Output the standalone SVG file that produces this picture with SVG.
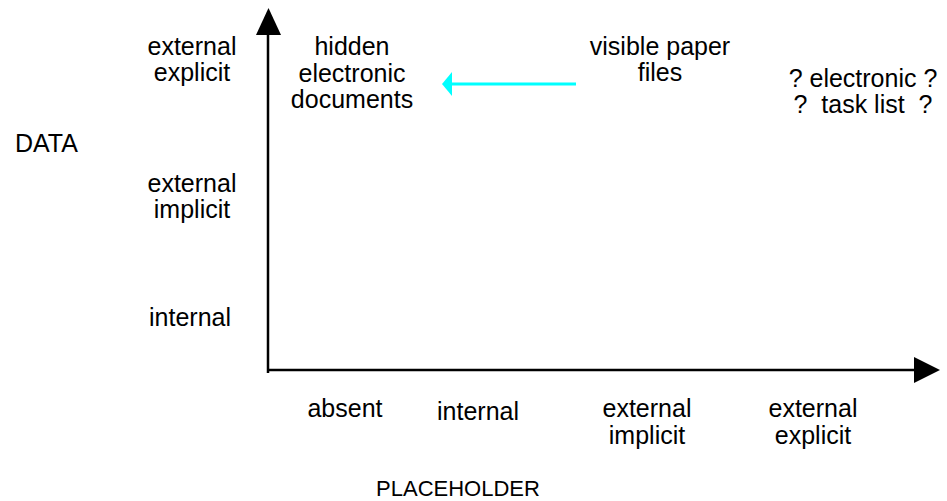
<svg xmlns="http://www.w3.org/2000/svg" width="947" height="501" viewBox="0 0 947 501">
<style>
text{font-family:"Liberation Sans",Arial,sans-serif;font-size:25px;fill:#000;}
.c{text-anchor:middle;}
.axis{stroke:#000;stroke-width:2.5;fill:none;}
</style>
<rect width="947" height="501" fill="#fff"/>
<g id="connectors">
<path class="axis" d="M268,373 V34"/>
<path d="M256,35 L268.5,8 L281,35 Z" fill="#000"/>
<path class="axis" d="M267,370 H914"/>
<path d="M914,357 L940,370 L914,383 Z" fill="#000"/>
<path d="M576,84 H450" stroke="#00FFFF" stroke-width="3" fill="none"/>
<path d="M452,72 L442,84 L452,96 Z" fill="#00FFFF"/>
</g>
<g id="y-ext-explicit">
<text class="c" x="192" y="55">external</text>
<text class="c" x="192" y="81">explicit</text>
</g>
<g id="y-title">
<text x="15" y="152">DATA</text>
</g>
<g id="y-ext-implicit">
<text class="c" x="192" y="192">external</text>
<text class="c" x="192" y="218">implicit</text>
</g>
<g id="y-internal">
<text class="c" x="190" y="326">internal</text>
</g>
<g id="node-hidden">
<text class="c" x="352" y="55">hidden</text>
<text class="c" x="352" y="82">electronic</text>
<text class="c" x="352" y="108">documents</text>
</g>
<g id="node-visible">
<text class="c" x="660" y="55">visible paper</text>
<text class="c" x="660" y="81">files</text>
</g>
<g id="node-tasklist">
<text class="c" x="863" y="87" xml:space="preserve">? electronic ?</text>
<text class="c" x="863" y="113" xml:space="preserve">?  task list  ?</text>
</g>
<g id="x-absent">
<text class="c" x="345" y="417">absent</text>
</g>
<g id="x-internal">
<text class="c" x="478" y="420">internal</text>
</g>
<g id="x-ext-implicit">
<text class="c" x="647" y="417">external</text>
<text class="c" x="647" y="444">implicit</text>
</g>
<g id="x-ext-explicit">
<text class="c" x="813" y="417">external</text>
<text class="c" x="813" y="444">explicit</text>
</g>
<g id="x-title">
<text class="c" x="458" y="496" style="font-size:22px">PLACEHOLDER</text>
</g>
</svg>
